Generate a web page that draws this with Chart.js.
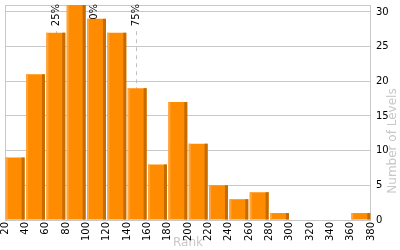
<!DOCTYPE html>
<html>
<head>
<meta charset="utf-8">
<script src="https://cdn.jsdelivr.net/npm/chart.js@4"></script>
<style>
  html, body { margin: 0; padding: 0; background: #fff; }
  #wrap { width: 400px; height: 250px; }
</style>
</head>
<body>
<div id="wrap"><canvas id="chart"></canvas></div>
<script>
// rank bins (lower edge), 20 wide
var binStart = [20, 40, 60, 80, 100, 120, 140, 160, 180, 200, 220, 240, 260, 280, 300, 320, 340, 360];
var levelCounts = [9, 21, 27, 31, 29, 27, 19, 8, 17, 11, 5, 3, 4, 1, 0, 0, 0, 1];
var binWidth = 20;
var yTicks = [0, 5, 10, 15, 20, 25, 30];

// percentile markers
var pctLabels = ['25%', '50%', '75%'];
var pctValues = [70, 108, 149];

var barData = binStart.map(function(s, i) {
    return { x: s + binWidth / 2, y: levelCounts[i] };
});

// frame + percentile lines behind the bars
var backdrop = {
    id: 'backdrop',
    beforeDatasetsDraw: function(chart) {
        var ctx = chart.ctx;
        var area = chart.chartArea;
        var xs = chart.scales.x;
        ctx.save();
        ctx.strokeStyle = '#c8c8c8';
        ctx.lineWidth = 1;
        ctx.strokeRect(Math.round(area.left) + 0.5, Math.round(area.top) + 0.5,
            Math.round(area.right - area.left) - 1, Math.round(area.bottom - area.top));

        ctx.font = '10px "DejaVu Sans"';
        ctx.textBaseline = 'middle';
        ctx.textAlign = 'right';
        pctValues.forEach(function(v, i) {
            var px = Math.round(xs.getPixelForValue(v)) + 0.5;
            var w = ctx.measureText(pctLabels[i]).width;
            ctx.strokeStyle = '#c0c0c0';
            ctx.setLineDash([4, 4]);
            ctx.beginPath();
            ctx.moveTo(px, area.top + w + 4);
            ctx.lineTo(px, area.bottom);
            ctx.stroke();
            ctx.setLineDash([]);
            ctx.save();
            ctx.translate(px, area.top - 1);
            ctx.rotate(-Math.PI / 2);
            ctx.fillStyle = '#000';
            ctx.fillText(pctLabels[i], 0, 0);
            ctx.restore();
        });
        ctx.restore();
    },
    afterDatasetsDraw: function(chart) {
        // light left edge and dark right edge on each bar
        var ctx = chart.ctx;
        ctx.save();
        chart.getDatasetMeta(0).data.forEach(function(bar) {
            var h = bar.base - bar.y;
            if (h <= 0) return;
            var left = bar.x - bar.width / 2;
            var right = bar.x + bar.width / 2;
            ctx.fillStyle = '#ffa43a';
            ctx.fillRect(left, bar.y, 2, h);
            ctx.fillStyle = '#c46c00';
            ctx.fillRect(right - 3, bar.y, 3, h);
        });
        // y axis title
        ctx.font = '12px "DejaVu Sans"';
        ctx.fillStyle = '#c8c8c8';
        ctx.textAlign = 'center';
        ctx.textBaseline = 'middle';
        ctx.translate(393, 141);
        ctx.rotate(-Math.PI / 2);
        ctx.fillText('Number of Levels', 0, 0);
        ctx.restore();
    }
};

Chart.defaults.font.family = '"DejaVu Sans", Verdana, sans-serif';
Chart.defaults.font.size = 10;
Chart.defaults.color = '#000';

var ctx = document.getElementById('chart').getContext('2d');
var levelChart = new Chart(ctx, {
    type: 'bar',
    data: {
        datasets: [{
            data: barData,
            backgroundColor: '#ff8c00',
            borderWidth: 0,
            barPercentage: 0.93,
            categoryPercentage: 1
        }]
    },
    options: {
        responsive: true,
        maintainAspectRatio: false,
        animation: false,
        layout: {
            padding: { left: 5, top: 5, right: 0, bottom: 0 }
        },
        scales: {
            x: {
                type: 'linear',
                min: 20,
                max: 380,
                offset: false,
                grid: { display: false, drawTicks: false },
                border: { display: false },
                ticks: {
                    stepSize: 20,
                    autoSkip: false,
                    maxRotation: 90,
                    minRotation: 90,
                    padding: 2
                },
                title: {
                    display: true,
                    text: 'Rank',
                    color: '#c8c8c8',
                    font: { size: 12 },
                    padding: 0
                },
                afterFit: function(axis) {
                    axis.height = 30;
                    axis.paddingLeft = 0;
                    axis.paddingRight = 0;
                }
            },
            y: {
                position: 'right',
                min: 0,
                max: 31,
                grid: { color: '#c8c8c8', drawTicks: false },
                border: { display: false },
                ticks: { padding: 5 },
                afterBuildTicks: function(axis) {
                    axis.ticks = yTicks.map(function(v) { return { value: v }; });
                },
                afterFit: function(axis) {
                    axis.width = 29;
                    axis.paddingTop = 0;
                    axis.paddingBottom = 0;
                }
            }
        },
        plugins: {
            legend: { display: false },
            tooltip: { enabled: false }
        }
    },
    plugins: [backdrop]
});
</script>
</body>
</html>
